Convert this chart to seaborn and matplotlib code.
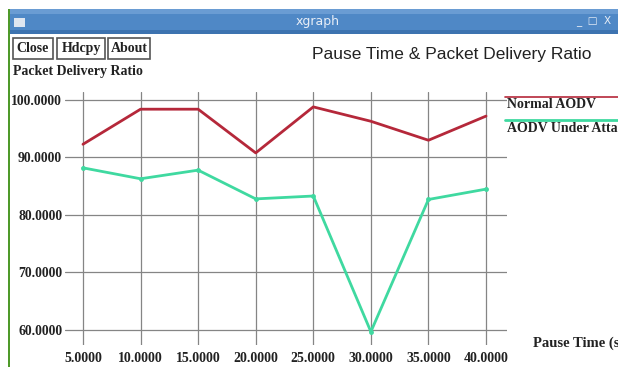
import numpy as np
import pandas as pd
import matplotlib
matplotlib.use("Agg")
import matplotlib.pyplot as plt
import seaborn as sns
from matplotlib.patches import Rectangle
from matplotlib.lines import Line2D

# ---- data ----
pause_time = [5, 10, 15, 20, 25, 30, 35, 40]
normal_aodv = [92.3, 98.4, 98.4, 90.8, 98.8, 96.3, 93.0, 97.2]
aodv_attack = [88.2, 86.3, 87.8, 82.8, 83.3, 59.7, 82.7, 84.5]
series_names = ["Normal AODV", "AODV Under Attack"]
x_ticks = [5, 10, 15, 20, 25, 30, 35, 40]
y_ticks = [60, 70, 80, 90, 100]

df = pd.DataFrame({
    "pause": pause_time * 2,
    "pdr": normal_aodv + aodv_attack,
    "series": [series_names[0]] * len(pause_time) + [series_names[1]] * len(pause_time),
})

RED = "#b5283a"
GREEN = "#3fd9a0"
W, H = 618, 367

sns.set_theme(style="white")
plt.rcParams["font.family"] = ["Liberation Serif", "DejaVu Sans"]

fig = plt.figure(figsize=(W / 100, H / 100), dpi=100)
fig.patch.set_facecolor("white")

def fx(px):
    return px / W

def fy(py):
    return 1 - py / H

# window chrome
fig.add_artist(Rectangle((fx(10), fy(34)), 1 - fx(10), fy(9) - fy(34),
                         transform=fig.transFigure, facecolor="#4f88c6", edgecolor="none"))
fig.add_artist(Rectangle((fx(10), fy(14)), 1 - fx(10), fy(9) - fy(14),
                         transform=fig.transFigure, facecolor="#6a9cd3", edgecolor="none"))
fig.add_artist(Rectangle((fx(10), fy(34)), 1 - fx(10), fy(30) - fy(34),
                         transform=fig.transFigure, facecolor="#3d73b0", edgecolor="none"))
fig.add_artist(Rectangle((fx(8), 0), fx(2.2), fy(9),
                         transform=fig.transFigure, facecolor="#4f9a2a", edgecolor="none"))
fig.add_artist(Rectangle((fx(14), fy(27)), fx(11), fy(18) - fy(27),
                         transform=fig.transFigure, facecolor="#dfe6f0", edgecolor="none"))
fig.text(fx(318), fy(21), "xgraph", color="#e8eef7", fontsize=9,
         family="DejaVu Sans", ha="center", va="center")
fig.text(fx(594), fy(21), "_  \u25a1  X", color="#e8eef7", fontsize=7.5,
         family="DejaVu Sans", ha="center", va="center")

# buttons
for label, x0, x1 in [("Close", 13, 53), ("Hdcpy", 57, 105), ("About", 108, 150)]:
    fig.add_artist(Rectangle((fx(x0), fy(59)), fx(x1 - x0), fy(38) - fy(59),
                             transform=fig.transFigure, facecolor="white",
                             edgecolor="#555555", linewidth=1.2))
    fig.text(fx((x0 + x1) / 2), fy(48.5), label, fontsize=10, fontweight="bold",
             ha="center", va="center", color="#222222")

fig.text(fx(13), fy(71), "Packet Delivery Ratio", fontsize=10, fontweight="bold",
         ha="left", va="center", color="#222222")
fig.text(fx(452), fy(55), "Pause Time & Packet Delivery Ratio", fontsize=12.5,
         family="Liberation Sans", ha="center", va="center", color="#222222")
fig.text(fx(533), fy(343), "Pause Time (s)", fontsize=10.5, fontweight="bold",
         ha="left", va="center", color="#222222")

# plot axes
ax = fig.add_axes([fx(65), fy(345), fx(507) - fx(65), fy(92) - fy(345)])
ax.set_facecolor("white")
sns.lineplot(data=df, x="pause", y="pdr", hue="series", palette=[RED, GREEN],
             marker="o", markersize=3.5, markeredgewidth=0, linewidth=2,
             legend=False, ax=ax)
for l, c in zip(ax.lines, [RED, GREEN]):
    if c == RED:
        l.set_marker("None")

ax.set_xlim(3.44, 41.82)
ax.set_ylim(57.39, 101.39)
ax.set_xticks(x_ticks)
ax.set_yticks(y_ticks)
ax.set_xticklabels([f"{v:.4f}" for v in x_ticks], fontsize=10, fontweight="bold", color="#222222")
ax.set_yticklabels([f"{v:.4f}" for v in y_ticks], fontsize=9.8, fontweight="bold", color="#222222")
ax.tick_params(axis="both", length=0, pad=2)
ax.tick_params(axis="x", pad=5)
ax.set_xlabel("")
ax.set_ylabel("")
for s in ax.spines.values():
    s.set_visible(False)
ax.grid(True, color="#858585", linewidth=0.9)
ax.set_axisbelow(True)

# legend (xgraph style: line above label)
fig.add_artist(Line2D([fx(505), 1], [fy(97), fy(97)], transform=fig.transFigure,
                      color=RED, linewidth=1.2))
fig.add_artist(Line2D([fx(505), 1], [fy(120), fy(120)], transform=fig.transFigure,
                      color=GREEN, linewidth=2))
fig.text(fx(507), fy(104), series_names[0], fontsize=10, fontweight="bold",
         ha="left", va="center", color="#222222")
fig.text(fx(507), fy(128), series_names[1], fontsize=10, fontweight="bold",
         ha="left", va="center", color="#222222")

fig.savefig("out.png", dpi=100)
